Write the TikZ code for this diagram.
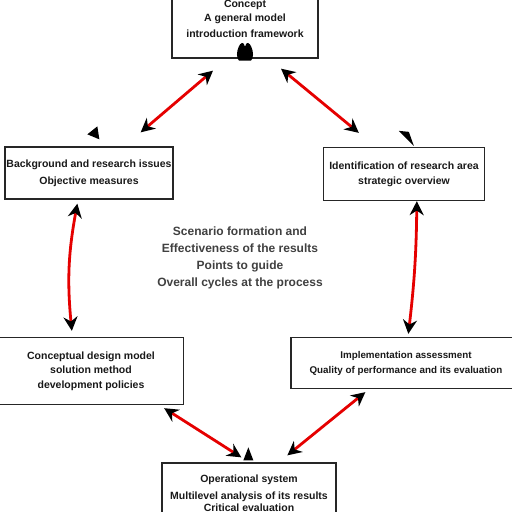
\documentclass[tikz,border=0pt]{standalone}
\usepackage{fontspec}
\setmainfont{Liberation Sans}
\usetikzlibrary{arrows.meta,calc}
\begin{document}
\begin{tikzpicture}[x=1pt,y=-1pt,
  box/.style={draw=black!85,line width=1.3pt,fill=white,align=center,inner sep=0pt,
    font=\bfseries\fontsize{10.5}{16}\selectfont,text=black!90},
  link/.style={draw=red!90!black,line width=2.8pt,
    {Stealth[black,length=14pt,width=14pt]}-{Stealth[black,length=14pt,width=14pt]}},
  stray/.style={fill=black},
  mid/.style={font=\bfseries\fontsize{12}{20}\selectfont,text=black!75,align=center}]
\useasboundingbox (0,0) rectangle (512,512);
% boxes
\node[box,minimum width=146pt,minimum height=78pt] (top) at (245,19)
  {Concept\\[-2pt]A general model\\introduction framework};
\node[box,minimum width=168pt,minimum height=52pt] (lm) at (89,173)
  {Background and research issues\\[1pt]Objective measures};
\node[box,minimum width=161pt,minimum height=53pt] (rm) at (404,174)
  {Identification of research area\\[-1pt]strategic overview};
\node[box,minimum width=185pt,minimum height=67pt] (bl) at (91,371)
  {Conceptual design model\\[-2pt]solution method\\[-1pt]development policies};
\node[box,minimum width=230pt,minimum height=51pt,font=\bfseries\fontsize{9.8}{16}\selectfont] (br) at (406,363)
  {Implementation assessment\\[-1pt]Quality of performance and its evaluation};
\node[box,minimum width=174pt,minimum height=60pt] (bot) at (249,493)
  {Operational system\\[1pt]Multilevel analysis of its results\\[-4pt]Critical evaluation};
% centre text
\node[mid] (ct) at (240,258)
  {Scenario formation and\\[-3pt]Effectiveness of the results\\[-3pt]Points to guide\\[-3pt]Overall cycles at the process};
% connectors
\draw[link] ($(top.south)+(-32,12)$) coordinate (a1) -- ($(lm.north east)+(-33,-14)$) coordinate (a2);
\draw[link] ($(top.south)+(36,10)$) coordinate (b1) -- ($(rm.north west)+(36,-14)$) coordinate (b2);
\draw[link] ($(lm.south west)+(73,4)$) coordinate (c1) to[bend right=8] ($(bl.north west)+(74,-6)$) coordinate (c2);
\draw[link] ($(rm.south west)+(94,0)$) coordinate (d1) to[bend left=3] ($(br.north west)+(118,-3)$) coordinate (d2);
\draw[link] ($(bl.south east)+(-20,3)$) coordinate (e1) -- ($(bot.north west)+(80,-5)$) coordinate (e2);
\draw[link] ($(br.south west)+(75,3)$) coordinate (f1) -- ($(bot.north west)+(126,-7)$) coordinate (f2);
% stray black marks
\fill[stray] (top.south) +(-6,2) .. controls +(-6,-6) and +(-3,-12) .. +(0,-12) .. controls +(3,-12) and +(6,-6) .. +(6,2) -- cycle;
\fill[stray] ($(lm.north west)+(83,-12)$) -- ++(10,-8) -- ++(2,13) -- cycle;
\fill[stray] ($(rm.north west)+(76,-16)$) -- ++(10,1) -- ++(5,14) -- cycle;
\fill[stray] ($(bot.north west)+(82,-2)$) -- ++(5,-13) -- ++(5,13) -- cycle;
\end{tikzpicture}
\end{document}
